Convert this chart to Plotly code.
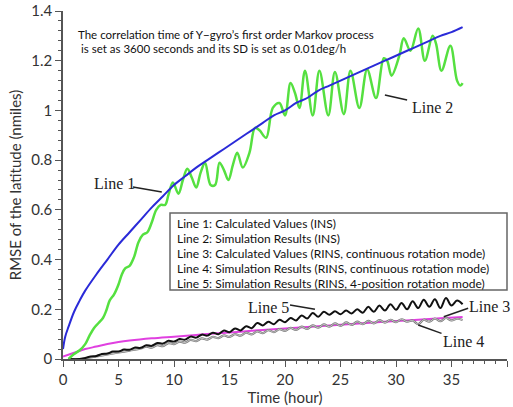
import plotly.graph_objects as go

# ---- data ----
line1_x = [0, 0.2, 0.5, 1, 1.5, 2, 3, 4, 5, 6, 7, 8, 9, 10, 11, 12, 13, 14, 15, 16, 17, 18,
           19, 20, 21, 22, 23, 24, 25, 26, 27, 28, 29, 30, 31, 32, 33, 34, 35, 36]
line1_y = [0.04, 0.09, 0.13, 0.19, 0.235, 0.275, 0.34, 0.40, 0.46, 0.51, 0.56, 0.61, 0.655, 0.70,
           0.735, 0.77, 0.80, 0.83, 0.86, 0.89, 0.92, 0.95, 0.98, 1.00, 1.03, 1.05, 1.08, 1.10,
           1.12, 1.14, 1.16, 1.18, 1.20, 1.22, 1.24, 1.26, 1.28, 1.30, 1.315, 1.335]

line2_x = [0.5, 1.0, 1.5, 2.0, 2.4, 2.8, 3.2, 3.6, 3.9, 4.2, 4.6, 5.0, 5.3, 5.6, 6.0, 6.4, 6.8,
           7.2, 7.6, 8.0, 8.4, 8.8, 9.2, 9.5, 9.9, 10.4, 10.8, 11.2, 11.6, 12.0, 12.4, 12.8,
           13.3, 13.7, 14.1, 14.5, 14.9, 15.3, 15.7, 16.2, 16.8, 17.3, 17.7, 18.3, 18.9, 19.5,
           20.0, 20.5, 20.9, 21.3, 21.8, 22.5, 23.1, 23.9, 24.5, 25.3, 25.9, 26.7, 27.4, 28.2,
           28.9, 29.2, 29.6, 30.3, 30.7, 31.3, 32.0, 32.6, 33.3, 33.6, 34.1, 34.9, 35.5, 35.8, 36.0]
line2_y = [0.00, 0.02, 0.035, 0.06, 0.095, 0.125, 0.145, 0.165, 0.195, 0.235, 0.26, 0.30, 0.34,
           0.365, 0.375, 0.41, 0.47, 0.50, 0.51, 0.55, 0.60, 0.62, 0.62, 0.66, 0.71, 0.665, 0.72,
           0.765, 0.73, 0.69, 0.75, 0.79, 0.70, 0.70, 0.79, 0.76, 0.72, 0.78, 0.83, 0.77, 0.83,
           0.93, 0.92, 0.89, 1.01, 1.03, 0.98, 1.11, 1.07, 1.01, 1.16, 0.98, 1.16, 0.98, 1.155,
           0.985, 1.16, 1.01, 1.165, 1.05, 1.21, 1.20, 1.14, 1.22, 1.29, 1.24, 1.33, 1.20, 1.30,
           1.27, 1.16, 1.26, 1.12, 1.10, 1.11]

line3_x = [0, 1, 2, 3, 4, 5, 6, 8, 10, 12, 14, 16, 18, 20, 22, 24, 26, 28, 30, 32, 34, 36]
line3_y = [0.01, 0.025, 0.04, 0.05, 0.06, 0.068, 0.074, 0.083, 0.09, 0.097, 0.104, 0.11, 0.117,
           0.123, 0.129, 0.135, 0.141, 0.147, 0.153, 0.158, 0.164, 0.169]

line4_x = [0.5, 1.5, 2.0, 3.0, 4.0, 5.0, 6.0, 7.0, 7.5, 8.0, 8.5, 9.0, 9.5, 10.0, 10.5, 11.0,
           11.5, 12.0, 12.5, 13.0, 13.5, 14.0, 14.5, 15.0, 15.5, 16.0, 16.5, 17.0, 17.5, 18.0,
           18.5, 19.0, 19.5, 20.0, 20.5, 21.0, 21.5, 22.0, 22.5, 23.0, 23.5, 24.0, 24.5, 25.0,
           25.5, 26.0, 26.5, 27.0, 27.5, 28.0, 28.5, 29.0, 29.5, 30.0, 30.5, 31.0, 31.5, 32.0,
           32.5, 33.0, 33.5, 34.0, 34.5, 35.0, 35.5, 36.0]
line4_y = [0.0, 0.0, 0.003, 0.01, 0.018, 0.026, 0.034, 0.042, 0.05, 0.046, 0.056, 0.052, 0.064,
           0.06, 0.07, 0.066, 0.077, 0.072, 0.083, 0.078, 0.089, 0.084, 0.095, 0.089, 0.1, 0.094,
           0.106, 0.099, 0.111, 0.104, 0.116, 0.108, 0.12, 0.113, 0.125, 0.117, 0.13, 0.121,
           0.135, 0.126, 0.139, 0.13, 0.143, 0.133, 0.147, 0.137, 0.15, 0.14, 0.153, 0.143,
           0.156, 0.146, 0.158, 0.148, 0.16, 0.15, 0.155, 0.14, 0.158, 0.15, 0.163, 0.152,
           0.165, 0.155, 0.162, 0.157]

line5_x = [0.5, 1.5, 2.0, 2.5, 3.0, 3.5, 4.0, 4.5, 5.0, 5.5, 6.0, 6.5, 7.0, 7.5, 8.0, 8.5, 9.0,
           9.5, 10.0, 10.5, 11.0, 11.5, 12.0, 12.5, 13.0, 13.5, 14.0, 14.5, 15.0, 15.5, 16.0,
           16.5, 17.0, 17.5, 18.0, 18.5, 19.0, 19.5, 20.0, 20.5, 21.0, 21.5, 22.0, 22.5, 23.0,
           23.5, 24.0, 24.5, 25.0, 25.5, 26.0, 26.5, 27.0, 27.5, 28.0, 28.5, 29.0, 29.5, 30.0,
           30.5, 31.0, 31.5, 32.0, 32.5, 33.0, 33.5, 34.0, 34.5, 35.0, 35.5, 36.0]
line5_y = [0.0, 0.0, 0.004, 0.01, 0.012, 0.02, 0.022, 0.03, 0.03, 0.038, 0.037, 0.046, 0.045,
           0.055, 0.053, 0.064, 0.062, 0.073, 0.07, 0.08, 0.078, 0.09, 0.086, 0.098, 0.094,
           0.106, 0.1, 0.115, 0.108, 0.123, 0.115, 0.132, 0.124, 0.145, 0.135, 0.15, 0.14,
           0.158, 0.148, 0.165, 0.155, 0.175, 0.163, 0.185, 0.17, 0.19, 0.178, 0.192, 0.18,
           0.195, 0.183, 0.2, 0.186, 0.21, 0.19, 0.215, 0.195, 0.22, 0.198, 0.225, 0.2, 0.232,
           0.205, 0.238, 0.21, 0.24, 0.205, 0.245, 0.215, 0.235, 0.22]

legend_lines = [
    "Line 1: Calculated Values (INS)",
    "Line 2: Simulation Results (INS)",
    "Line 3: Calculated Values (RINS, continuous rotation mode)",
    "Line 4: Simulation Results (RINS, continuous rotation mode)",
    "Line 5: Simulation Results (RINS, 4-position rotation mode)",
]
note_lines = [
    "The correlation time of Y\u2212gyro\u2019s first order Markov process",
    "is set as 3600 seconds and its SD is set as 0.01deg/h",
]
x_title = "Time (hour)"
y_title = "RMSE of the latitude (nmiles)"

# ---- figure ----
fig = go.Figure()
fig.add_trace(go.Scatter(x=line3_x, y=line3_y, mode="lines", line=dict(color="#e040e0", width=2, shape="spline")))
fig.add_trace(go.Scatter(x=line4_x, y=line4_y, mode="lines", line=dict(color="#7a7a7a", width=2.2, shape="spline")))
fig.add_trace(go.Scatter(x=line4_x, y=line4_y, mode="lines", line=dict(color="#d8d8d8", width=0.8, shape="spline")))
fig.add_trace(go.Scatter(x=line5_x, y=line5_y, mode="lines", line=dict(color="#111111", width=2, shape="spline")))
fig.add_trace(go.Scatter(x=line2_x, y=line2_y, mode="lines", line=dict(color="#55e040", width=2.5, shape="spline")))
fig.add_trace(go.Scatter(x=line1_x, y=line1_y, mode="lines", line=dict(color="#2a2ad8", width=2, shape="spline")))

font_family = "Lato, Open Sans, sans-serif"
tickfont = dict(family=font_family, size=15, color="#333333")
axis_common = dict(showline=True, linecolor="#555555", linewidth=1.5, ticks="outside",
                   ticklen=6, tickwidth=1.2, tickcolor="#555555", showgrid=False,
                   zeroline=False, tickfont=tickfont, automargin=False)

fig.update_xaxes(range=[0, 40], dtick=5, tick0=0,
                 minor=dict(dtick=1, ticks="outside", ticklen=3, tickcolor="#555555"),
                 title=dict(text=x_title, font=dict(family=font_family, size=15, color="#333333"),
                            standoff=2),
                 **axis_common)
fig.update_yaxes(range=[0, 1.4], dtick=0.2, tick0=0,
                 minor=dict(dtick=0.04, ticks="outside", ticklen=3, tickcolor="#555555"),
                 title=dict(text=y_title, font=dict(family=font_family, size=15, color="#333333"),
                            standoff=6),
                 **axis_common)

anns = []
# top note
anns.append(dict(xref="paper", yref="paper", x=0.03, y=0.933, xanchor="left", yanchor="middle",
                 text=note_lines[0], showarrow=False,
                 font=dict(family="Lato, sans-serif", size=11.5, color="#111111")))
anns.append(dict(xref="paper", yref="paper", x=0.036, y=0.893, xanchor="left", yanchor="middle",
                 text=note_lines[1], showarrow=False,
                 font=dict(family="Lato, sans-serif", size=11.5, color="#111111")))
# legend box text
leg_y = [0.388, 0.346, 0.304, 0.261, 0.218]
for t, yy in zip(legend_lines, leg_y):
    anns.append(dict(xref="paper", yref="paper", x=0.252, y=yy, xanchor="left", yanchor="middle",
                     text=t, showarrow=False,
                     font=dict(family="Lato, sans-serif", size=12, color="#111111")))
# line labels (serif)
serif = dict(family="Liberation Serif, Times New Roman, serif", size=16, color="#222222")
labels = [("Line 1", 4.6, 0.708), ("Line 2", 33.3, 1.01), ("Line 5", 18.5, 0.209),
          ("Line 3", 38.4, 0.213), ("Line 4", 36.1, 0.07)]
for t, xx, yy in labels:
    anns.append(dict(x=xx, y=yy, text=t, showarrow=False, font=serif,
                     xanchor="center", yanchor="middle"))
fig.update_layout(annotations=anns)

shapes = [dict(type="rect", xref="paper", yref="paper", x0=0.241, x1=1.0, y0=0.198, y1=0.4195,
               line=dict(color="#666666", width=1.5), fillcolor="rgba(0,0,0,0)")]
pointers = [(6.3, 0.692, 8.9, 0.672), (29.0, 1.062, 31.0, 1.042), (20.45, 0.217, 22.7, 0.20),
            (34.3, 0.17, 36.5, 0.204), (32.0, 0.137, 34.1, 0.103)]
for x0, y0, x1, y1 in pointers:
    shapes.append(dict(type="line", xref="x", yref="y", x0=x0, y0=y0, x1=x1, y1=y1,
                       line=dict(color="#222222", width=1.5)))
fig.update_layout(shapes=shapes)

fig.update_layout(width=513, height=407, margin=dict(l=63, r=6, t=11, b=48),
                  plot_bgcolor="white", paper_bgcolor="white", showlegend=False)

fig.write_html("out.html", config={"displayModeBar": False},
               post_script="document.body.style.margin='0';document.body.style.overflow='hidden';")
